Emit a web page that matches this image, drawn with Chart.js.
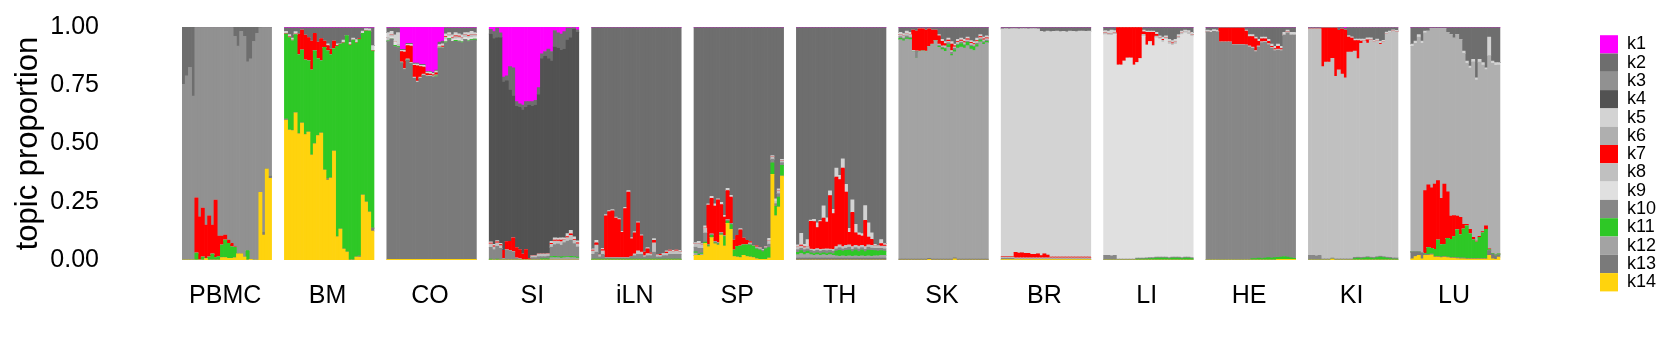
<!DOCTYPE html>
<html>
<head>
    <title>Topic proportions by tissue</title>
    <script src="https://cdnjs.cloudflare.com/ajax/libs/Chart.js/4.4.1/chart.umd.min.js"></script>
    <style>
        body { margin: 0; background: #fff; }
        #wrap { width: 1680px; height: 360px; }
    </style>
</head>
<body>
<div id="wrap"><canvas id="canvas"></canvas></div>
<script>
    // tissues (facets), 28 samples each
    var panels = ['PBMC', 'BM', 'CO', 'SI', 'iLN', 'SP', 'TH', 'SK', 'BR', 'LI', 'HE', 'KI', 'LU'];
    var topics = ['k1', 'k2', 'k3', 'k4', 'k5', 'k6', 'k7', 'k8', 'k9', 'k10', 'k11', 'k12', 'k13', 'k14'];
    var colors = ['#FF00FF', '#6E6E6E', '#919191', '#525252', '#D3D3D3', '#AFAFAF', '#FF0000',
                  '#C0C0C0', '#E0E0E0', '#878787', '#2EC826', '#A3A3A3', '#7A7A7A', '#FFD30D'];
    // topic that fills the rest of each sample (proportions add up to 1)
    var dominant = ['k3', 'k11', 'k13', 'k4', 'k2', 'k2', 'k2', 'k12', 'k5', 'k9', 'k10', 'k8', 'k6'];
    var nBars = 28, gapSlots = 4;

    var k1 = {
        BM:  [0.004,0.004,0.004,0.004,0.004,0.004,0.004,0.004,0.004,0.004,0.004,0.004,0.004,0.004,0.004,0.004,0.004,0.004,0.004,0.004,0.004,0.004,0.004,0.004,0.004,0.004,0.004,0.004],
        CO:  [0.004,0.004,0.004,0.004,0.096,0.096,0.07,0.07,0.155,0.155,0.16,0.16,0.19,0.19,0.195,0.185,0.065,0.06,0.004,0.004,0.004,0.004,0.004,0.004,0.004,0.004,0.004,0.004],
        SI:  [0.01,0.02,0.005,0.025,0.215,0.21,0.17,0.175,0.32,0.33,0.335,0.32,0.32,0.32,0.315,0.26,0.115,0.105,0.095,0.105,0.015,0.025,0.03,0.02,0.005,0.005,0.004,0.012],
        iLN: [0.003,0.003,0.003,0.003,0.003,0.003,0.003,0.003,0.003,0.003,0.003,0.003,0.003,0.003,0.003,0.003,0.003,0.003,0.003,0.003,0.003,0.003,0.003,0.003,0.003,0.003,0.003,0.003],
        SP:  [0.003,0.003,0.003,0.003,0.003,0.003,0.003,0.003,0.003,0.003,0.003,0.003,0.003,0.003,0.003,0.003,0.003,0.003,0.003,0.003,0.003,0.003,0.003,0.003,0.003,0.003,0.003,0.003],
        TH:  [0.003,0.003,0.003,0.003,0.003,0.003,0.003,0.003,0.003,0.003,0.003,0.003,0.003,0.003,0.003,0.003,0.003,0.003,0.003,0.003,0.003,0.003,0.003,0.003,0.003,0.003,0.003,0.003],
        SK:  [0.003,0.003,0.003,0.003,0.003,0.003,0.003,0.003,0.003,0.003,0.003,0.003,0.003,0.003,0.003,0.003,0.003,0.003,0.003,0.003,0.003,0.003,0.003,0.003,0.003,0.003,0.003,0.003],
        BR:  [0.003,0.003,0.003,0.003,0.003,0.003,0.003,0.003,0.003,0.003,0.003,0.003,0.003,0.003,0.003,0.003,0.003,0.003,0.003,0.003,0.003,0.003,0.003,0.003,0.003,0.003,0.003,0.003],
        LI:  [0.003,0.003,0.003,0.003,0.003,0.003,0.003,0.003,0.003,0.003,0.003,0.003,0.003,0.003,0.003,0.003,0.003,0.003,0.003,0.003,0.003,0.003,0.003,0.003,0.003,0.003,0.003,0.003],
        HE:  [0.003,0.003,0.003,0.003,0.003,0.003,0.003,0.003,0.003,0.003,0.003,0.003,0.003,0.003,0.003,0.003,0.003,0.003,0.003,0.003,0.003,0.003,0.003,0.003,0.003,0.003,0.003,0.003],
        KI:  [0.002,0.002,0.002,0.002,0.002,0.002,0.002,0.002,0.002,0.002,0.002,0.006,0.002,0.002,0.002,0.002,0.002,0.002,0.002,0.002,0.002,0.002,0.002,0.002,0.002,0.002,0.002,0.002],
        LU:  [0.003,0.003,0.003,0.003,0.003,0.003,0.003,0.003,0.003,0.003,0.003,0.003,0.003,0.003,0.003,0.003,0.003,0.003,0.003,0.003,0.003,0.003,0.003,0.003,0.003,0.003,0.003,0.003]
    };
    var k2 = {
        PBMC: [0.246,0.21,0.173,0.296,0.002,0.002,0.002,0.002,0.002,0.002,0.002,0.002,0.002,0.002,0.002,0.002,0.04,0.082,0.019,0.04,0.15,0.137,0.062,0.027,0.003,0.002,0.002,0.002],
        BM:  [0.015,0.028,0.044,0.016,0.026,0.009,0.031,0.041,0.056,0.023,0.061,0.046,0.056,0.068,0.091,0.056,0.068,0.069,0.052,0.033,0.062,0.044,0.05,0.046,0.013,0.003,0.004,0.076],
        CO:  [0.02,0.015,0.03,0.02,0.004,0.004,0.004,0.004,0.004,0.004,0.004,0.004,0.004,0.004,0.004,0.004,0.01,0.012,0.025,0.02,0.03,0.02,0.025,0.03,0.02,0.02,0.015,0.02],
        SI:  [0.02,0.03,0.04,0.02,0.02,0.02,0.1,0.12,0.02,0.015,0.02,0.025,0.015,0.02,0.02,0.03,0.02,0.02,0.04,0.04,0.07,0.065,0.07,0.075,0.05,0.04,0.005,0.01],
        SK:  [0.02,0.025,0.015,0.02,0.01,0.015,0.005,0.005,0.01,0.005,0.01,0.01,0.03,0.05,0.06,0.045,0.06,0.07,0.05,0.045,0.05,0.04,0.055,0.06,0.045,0.03,0.04,0.035],
        BR:  [0.005,0.004,0.005,0.004,0.004,0.005,0.004,0.004,0.005,0.004,0.004,0.005,0.016,0.018,0.015,0.017,0.016,0.015,0.017,0.016,0.018,0.015,0.016,0.017,0.015,0.014,0.016,0.015],
        LI:  [0.012,0.014,0.01,0.012,0,0,0,0,0,0,0,0,0.01,0.015,0.015,0.015,0.02,0.035,0.04,0.035,0.05,0.055,0.05,0.03,0.015,0.01,0.012,0.02],
        HE:  [0.01,0.012,0.008,0.01,0.002,0.002,0.002,0.002,0.002,0.002,0.002,0.002,0.01,0.03,0.03,0.04,0.05,0.04,0.04,0.05,0.07,0.08,0.07,0.08,0.02,0.01,0.02,0.02],
        KI:  [0.006,0.006,0.006,0.006,0.003,0.003,0.003,0.003,0.003,0.012,0.007,0.007,0.035,0.04,0.05,0.05,0.05,0.05,0.045,0.045,0.055,0.05,0.06,0.055,0.02,0.015,0.01,0.012],
        LU:  [0.07,0.057,0.03,0.057,0.014,0.014,0.004,0.004,0.004,0.004,0.004,0.02,0.03,0.045,0.03,0.05,0.1,0.143,0.165,0.136,0.215,0.136,0.15,0.172,0.04,0.143,0.15,0.15]
    };
    var k3 = {};
    var k4 = {};
    var k5 = {
        BM:  [0.008,0.01,0.008,0.01,0,0,0,0,0,0,0,0,0,0.008,0,0,0.008,0,0.01,0,0.01,0.008,0.012,0,0.01,0.008,0.01,0.02],
        CO:  [0.02,0.015,0.03,0.05,0.006,0.008,0.006,0.008,0.006,0.008,0.006,0.008,0.006,0.008,0.006,0.008,0.01,0.01,0.012,0.008,0.01,0.014,0.01,0.012,0.01,0.012,0.015,0.01],
        SI:  [0.005,0.006,0.005,0.006,0,0,0,0,0,0,0,0,0,0,0,0,0,0,0,0.008,0.01,0.008,0.01,0.008,0.012,0.015,0.01,0.008],
        iLN: [0.005,0.01,0,0.005,0.005,0.004,0.005,0.004,0.005,0.004,0.005,0.006,0.005,0.005,0.005,0.004,0,0.005,0,0.008,0,0,0,0.005,0,0.008,0,0.005],
        SP:  [0.005,0.01,0.005,0.01,0.005,0.008,0.01,0.005,0.01,0.008,0.01,0.008,0,0,0.006,0,0,0,0,0,0,0,0,0.01,0.005,0.01,0.008,0.006],
        TH:  [0.01,0.05,0.01,0.03,0.005,0.01,0.02,0.005,0.053,0.018,0.021,0.018,0.039,0.018,0.04,0.033,0.017,0.053,0.036,0.01,0.01,0.064,0.061,0.028,0.007,0,0.017,0.006],
        SK:  [0.01,0.01,0.012,0.01,0,0,0,0,0,0,0,0,0.005,0.008,0.008,0.008,0.01,0.008,0.008,0.008,0.01,0.008,0.008,0.008,0.01,0.008,0.008,0.008],
        LI:  [0.01,0.012,0.015,0.01,0,0,0,0,0,0,0,0,0.008,0.005,0.005,0.005,0.008,0.008,0.01,0.008,0.01,0.01,0.012,0.01,0.008,0.006,0.008,0.01],
        HE:  [0.008,0.008,0.008,0.008,0,0,0,0,0,0,0,0,0.005,0.008,0.008,0.008,0.008,0.008,0.008,0.008,0.01,0.01,0.01,0.01,0.008,0.008,0.008,0.008],
        KI:  [0,0,0,0,0,0,0,0,0,0,0,0,0.006,0.006,0.006,0.006,0.008,0.008,0.008,0.008,0.008,0.008,0.008,0.008,0.006,0.006,0.006,0.006],
        LU:  [0.01,0.01,0.01,0.01,0.008,0,0,0,0,0,0,0,0,0,0,0,0.01,0.01,0.008,0.01,0.01,0.012,0.01,0.008,0.08,0.01,0.012,0.01]
    };
    var k6 = {};
    var k7 = {
        PBMC: [0,0,0,0,0.237,0.185,0.21,0.144,0.177,0.125,0.247,0.088,0.039,0.021,0.014,0.015,0.003,0,0,0,0,0,0,0,0,0,0,0],
        BM:  [0.003,0.003,0.003,0.003,0.089,0.086,0.107,0.1,0.125,0.075,0.072,0.095,0.027,0.022,0.024,0.034,0.003,0,0.003,0,0.003,0,0.003,0.003,0,0.003,0,0.003],
        CO:  [0,0,0,0,0.043,0.07,0.057,0.07,0.05,0.065,0.045,0.03,0.008,0.005,0.005,0.008,0,0.004,0.003,0,0.003,0.003,0.003,0,0,0.003,0,0],
        SI:  [0.004,0.004,0.004,0.004,0.036,0.035,0.04,0.06,0.045,0.04,0.025,0.045,0.006,0,0,0,0,0,0,0.005,0.004,0.005,0.006,0,0.005,0.006,0.004,0.005],
        iLN: [0.004,0.01,0,0.006,0.181,0.199,0.202,0.171,0.164,0.11,0.212,0.283,0.075,0.09,0.12,0.07,0.015,0.02,0.005,0.01,0,0.004,0,0.005,0.004,0,0.004,0],
        SP:  [0,0,0,0,0.169,0.154,0.152,0.184,0.121,0.079,0.126,0.113,0.043,0.047,0.069,0.029,0.019,0.005,0,0.004,0,0,0,0,0,0,0,0],
        TH:  [0,0.004,0.004,0,0.119,0.119,0.09,0.119,0.133,0.115,0.229,0.153,0.298,0.28,0.336,0.229,0.054,0.147,0.054,0.047,0.04,0.112,0.033,0.026,0,0,0.011,0.004],
        SK:  [0,0,0,0,0.087,0.085,0.095,0.095,0.09,0.075,0.06,0.045,0.035,0.02,0.01,0.005,0.028,0.004,0.004,0.004,0.004,0.004,0.004,0.004,0.004,0.004,0.004,0.004],
        BR:  [0.003,0.003,0.003,0.003,0.024,0.021,0.022,0.02,0.02,0.015,0.015,0.018,0.01,0.017,0.012,0.004,0.004,0.004,0.004,0.004,0.003,0.003,0.003,0.003,0.003,0.003,0.003,0.003],
        LI:  [0,0,0,0,0.16,0.16,0.143,0.13,0.13,0.16,0.15,0.133,0.01,0.055,0.04,0.058,0.008,0,0.004,0,0,0.003,0,0,0,0,0,0],
        HE:  [0,0,0,0,0.06,0.06,0.06,0.06,0.071,0.071,0.071,0.071,0.06,0.04,0.045,0.05,0.02,0.012,0.01,0.01,0.004,0.004,0.012,0.004,0,0,0,0],
        KI:  [0,0,0,0,0.165,0.146,0.146,0.129,0.207,0.17,0.193,0.205,0.065,0.06,0.045,0.078,0.01,0,0.014,0,0,0,0.004,0,0,0,0,0],
        LU:  [0,0,0,0,0.27,0.27,0.26,0.28,0.255,0.2,0.26,0.2,0.1,0.09,0.06,0.075,0.02,0.006,0.02,0.01,0.004,0.005,0.005,0.015,0.003,0,0,0]
    };
    var k8 = {
        CO:  [0.015,0.008,0,0.01,0.005,0.005,0.005,0.005,0.005,0.005,0.005,0.005,0.005,0.005,0.005,0.005,0.005,0.005,0.01,0.008,0.006,0.01,0.008,0.01,0.01,0.008,0.01,0.008],
        SI:  [0.015,0.012,0.015,0.012,0,0,0,0,0,0,0,0,0,0.008,0.008,0.01,0.01,0.01,0.01,0.012,0.015,0.012,0.015,0.012,0.015,0.02,0.015,0.012],
        iLN: [0.015,0.03,0.008,0.015,0,0,0,0,0,0,0,0,0,0.008,0.015,0.01,0.005,0.009,0.007,0.04,0.008,0.006,0.01,0.01,0.015,0.01,0.015,0.012],
        SP:  [0.015,0.02,0.015,0.02,0,0,0,0,0,0,0,0,0,0,0,0,0,0.005,0,0.005,0.005,0.005,0.005,0.015,0.01,0.01,0.012,0.008],
        TH:  [0.01,0.01,0.008,0.01,0.006,0.008,0.006,0.008,0.006,0.008,0.006,0.008,0.01,0.012,0.01,0.012,0.01,0.012,0.01,0.012,0.01,0.012,0.01,0.012,0.01,0.012,0.01,0.012],
        SK:  [0.008,0.01,0.008,0.01,0.005,0,0.005,0,0.005,0,0.005,0,0.005,0.005,0.008,0.006,0.008,0.006,0.008,0.006,0.008,0.006,0.008,0.006,0.008,0.006,0.008,0.006],
        BR:  [0.004,0.004,0.004,0.004,0.004,0.004,0.004,0.004,0.004,0.004,0.004,0.004,0.004,0.004,0.004,0.004,0.004,0.004,0.004,0.004,0.004,0.004,0.004,0.004,0.004,0.004,0.004,0.004],
        LI:  [0.008,0.006,0.008,0.006,0,0,0,0,0,0,0,0,0.008,0,0,0,0.008,0.006,0.008,0.006,0.01,0.008,0.008,0.006,0.006,0.006,0.008,0.006],
        HE:  [0,0,0,0,0,0,0,0,0,0,0,0,0,0.004,0.004,0.004,0.004,0.004,0.004,0.004,0.004,0.004,0.004,0.004,0.004,0.004,0.004,0.004]
    };
    var k9 = {
        CO:  [0,0.01,0.015,0,0,0,0,0,0,0,0,0,0,0,0,0,0,0,0.01,0.01,0.008,0.006,0.01,0.008,0.01,0.012,0.01,0.01]
    };
    var k10 = {
        SI:  [0.05,0.045,0.055,0.05,0.006,0.044,0.04,0.035,0.008,0.005,0,0,0,0.01,0.01,0.015,0.01,0.01,0.012,0.04,0.05,0.055,0.05,0.06,0.065,0.07,0.055,0.045],
        iLN: [0.02,0.03,0.01,0.02,0.005,0.005,0.005,0.005,0.005,0.005,0.005,0.005,0.012,0.015,0.02,0.02,0.01,0.015,0.015,0.03,0.01,0.01,0.015,0.015,0.02,0.02,0.02,0.02],
        SP:  [0.02,0.025,0.02,0.04,0.005,0.005,0.005,0.005,0.005,0.005,0.005,0.005,0,0,0,0,0,0.005,0,0.005,0.005,0.005,0.005,0.015,0.016,0.012,0.015,0.012],
        TH:  [0.012,0.01,0.012,0.01,0.01,0.01,0.012,0.01,0.01,0.012,0.01,0.01,0.01,0.012,0.01,0.01,0.012,0.01,0.01,0.012,0.01,0.01,0.012,0.01,0.01,0.012,0.01,0.01],
        SK:  [0.008,0.006,0.008,0.006,0,0.03,0,0,0,0,0,0,0.005,0.005,0.005,0.008,0.008,0.008,0.005,0.005,0.005,0.005,0.005,0.005,0.005,0.005,0.005,0.005],
        BR:  [0.006,0.006,0.006,0.006,0.003,0.003,0.003,0.003,0.003,0.003,0.003,0.003,0.003,0.003,0.003,0.003,0.003,0.003,0.003,0.003,0.003,0.003,0.003,0.003,0.003,0.003,0.003,0.003],
        LI:  [0.02,0.02,0.018,0.02,0.004,0.004,0.004,0.004,0.004,0.004,0.004,0.004,0.004,0.004,0.004,0.004,0.004,0.004,0.004,0.004,0.004,0.004,0.004,0.004,0.004,0.004,0.004,0.004],
        KI:  [0.02,0.02,0.018,0.02,0.005,0.005,0.005,0.005,0.005,0.005,0.005,0.005,0.005,0.005,0.005,0.005,0.005,0.005,0.005,0.005,0.005,0.005,0.005,0.005,0.005,0.005,0.005,0.005]
    };
    var k11 = {
        PBMC: [0,0,0,0,0.03,0,0.013,0,0.013,0.025,0.01,0.015,0.054,0.076,0.065,0.05,0.045,0,0,0,0.04,0,0,0,0,0,0,0],
        CO:  [0.004,0,0.005,0.004,0,0,0,0,0,0,0,0,0,0,0,0.004,0,0,0.004,0.004,0,0.004,0.004,0.004,0,0.004,0.004,0.004],
        SI:  [0.004,0,0.004,0,0,0,0,0,0,0,0,0,0,0,0,0,0.005,0.005,0.005,0.005,0.006,0.004,0.006,0.005,0.004,0.006,0.005,0.004],
        iLN: [0.004,0.004,0.004,0.004,0.004,0.004,0.004,0.004,0.004,0.004,0.004,0.004,0.004,0.004,0.004,0.004,0.004,0.004,0.004,0.004,0.004,0.004,0.004,0.004,0.004,0.004,0.004,0.004],
        SP:  [0.005,0.005,0.005,0.005,0.005,0.01,0.005,0.005,0.005,0.04,0.01,0.02,0.028,0.047,0.05,0.045,0.05,0.052,0.05,0.042,0.04,0.033,0.045,0.045,0.049,0.04,0.043,0.046],
        TH:  [0.01,0.012,0.01,0.01,0.008,0.008,0.008,0.008,0.008,0.008,0.008,0.008,0.02,0.025,0.02,0.025,0.025,0.02,0.025,0.02,0.025,0.02,0.025,0.025,0.022,0.02,0.02,0.018],
        SK:  [0.005,0.005,0.006,0.005,0,0,0,0,0,0,0,0,0.004,0.006,0.01,0.012,0.006,0.008,0.012,0.015,0.01,0.014,0.012,0.015,0.01,0.008,0.006,0.006],
        LI:  [0,0,0,0,0,0,0,0,0,0,0.004,0.004,0.004,0.005,0.006,0.006,0.008,0.008,0.008,0.008,0.006,0.008,0.008,0.008,0.006,0.008,0.008,0.006],
        HE:  [0,0,0,0,0,0,0,0,0,0,0,0,0,0,0.006,0.006,0.008,0.006,0.008,0.01,0.008,0.01,0.008,0.01,0.012,0.01,0.006,0.004],
        KI:  [0,0,0,0,0,0,0,0,0,0,0,0,0,0,0.006,0.008,0.006,0.008,0.01,0.008,0.006,0.01,0.012,0.01,0.008,0.006,0.004,0.004],
        LU:  [0,0,0,0,0.005,0.03,0.025,0.03,0.07,0.052,0.05,0.08,0.078,0.09,0.12,0.1,0.125,0.14,0.105,0.08,0.07,0.09,0.11,0.125,0.005,0.004,0.004,0.004]
    };
    var k12 = {
        SI:  [0,0,0,0,0,0,0,0,0,0,0,0,0,0,0,0,0,0,0,0.01,0.01,0.01,0.008,0.01,0.012,0.01,0.01,0.008],
        SP:  [0.01,0,0.005,0,0,0,0,0,0,0,0,0,0,0,0,0,0,0,0,0,0,0,0,0,0,0,0,0],
        TH:  [0.015,0.02,0.015,0.02,0.015,0.012,0.015,0.012,0.015,0.012,0.015,0.012,0.01,0.008,0.01,0.008,0.01,0.008,0.01,0.008,0.01,0.008,0.01,0.008,0.01,0.01,0.012,0.012]
    };
    var k13 = {
        PBMC: [0,0,0,0,0,0,0,0,0,0,0,0,0,0,0,0,0,0,0,0,0,0,0,0,0,0.013,0,0.01],
        BM:  [0.005,0,0,0,0,0,0,0,0,0,0,0,0,0.005,0,0,0,0,0,0,0,0,0,0.005,0,0,0,0.013],
        TH:  [0.008,0.008,0.008,0.008,0.008,0.008,0.008,0.008,0.008,0.008,0.008,0.008,0.008,0.008,0.008,0.008,0.008,0.008,0.008,0.008,0.008,0.008,0.008,0.008,0.008,0.008,0.008,0.008],
        SK:  [0.004,0.004,0.004,0.004,0.004,0.004,0.004,0.004,0.004,0.004,0.004,0.004,0.004,0.004,0.004,0.004,0.004,0.004,0.004,0.004,0.004,0.004,0.004,0.004,0.004,0.004,0.004,0.004],
        LU:  [0.03,0.02,0.015,0.025,0.003,0.003,0.003,0.003,0.003,0.003,0.003,0.003,0.003,0.003,0.003,0.003,0.003,0.003,0.003,0.003,0.003,0.003,0.003,0.003,0.02,0.02,0.015,0.01]
    };
    var k14 = {
        PBMC: [0,0,0,0,0,0,0,0.006,0,0,0,0,0.01,0.01,0.007,0.007,0.009,0.026,0.026,0.013,0,0.003,0,0,0.29,0.107,0.39,0.35],
        BM:  [0.6,0.558,0.555,0.632,0.542,0.588,0.538,0.549,0.45,0.499,0.534,0.545,0.386,0.343,0.352,0.468,0.099,0.133,0.047,0.034,0,0,0.013,0.012,0.279,0.249,0.206,0.124],
        CO:  [0.003,0.003,0.003,0.003,0.003,0.003,0.003,0.003,0.003,0.003,0.003,0.003,0.003,0.003,0.003,0.003,0.003,0.003,0.003,0.003,0.003,0.003,0.003,0.003,0.003,0.003,0.003,0.003],
        SP:  [0.02,0.02,0.02,0.072,0.057,0.096,0.069,0.064,0.107,0.06,0.157,0.132,0.015,0.012,0.01,0.02,0.015,0.012,0.01,0.005,0.003,0.003,0.003,0.008,0.368,0.19,0.227,0.36],
        SK:  [0,0,0,0,0,0,0,0,0,0.003,0,0,0,0,0,0,0,0.005,0,0,0,0,0,0,0,0,0,0],
        BR:  [0.002,0.002,0.002,0.002,0.002,0.002,0.002,0.002,0.002,0.002,0.002,0.002,0.002,0.002,0.002,0.002,0.002,0.002,0.002,0.002,0.002,0.002,0.002,0.002,0.002,0.002,0.002,0.002],
        HE:  [0,0,0,0,0,0,0,0,0,0,0,0,0,0,0,0,0,0,0,0,0,0,0.003,0.003,0.003,0.003,0.003,0.003],
        KI:  [0,0,0,0,0,0,0,0.004,0,0,0,0,0,0,0,0,0,0,0,0,0,0,0,0,0,0,0,0],
        LU:  [0.005,0.015,0.02,0.005,0.02,0.02,0.022,0.013,0.013,0.01,0.013,0.01,0.008,0.008,0.006,0.005,0.005,0.004,0.004,0.004,0.004,0.004,0.004,0.004,0.02,0.005,0.003,0.012]
    };

    var topicData = { k1: k1, k2: k2, k3: k3, k4: k4, k5: k5, k6: k6, k7: k7,
                      k8: k8, k9: k9, k10: k10, k11: k11, k12: k12, k13: k13, k14: k14 };

    // one category slot per sample, empty slots between tissues
    var labels = [];
    var series = topics.map(function() { return []; });
    panels.forEach(function(p, pi) {
        var di = topics.indexOf(dominant[pi]);
        for (var i = 0; i < nBars; i++) {
            labels.push(i === 13 ? p : '');
            var other = 0;
            topics.forEach(function(t, ti) {
                if (ti === di) { series[ti].push(null); return; }
                var arr = topicData[t][p];
                var v = arr ? arr[i] : 0;
                series[ti].push(v);
                other += v;
            });
            series[di][series[di].length - 1] = Math.max(0, 1 - other);
        }
        if (pi < panels.length - 1) {
            for (var g = 0; g < gapSlots; g++) {
                labels.push('');
                series.forEach(function(s) { s.push(null); });
            }
        }
    });

    // k14 first so it sits at the bottom of each stack
    var datasets = [];
    for (var ti = topics.length - 1; ti >= 0; ti--) {
        datasets.push({
            label: topics[ti],
            data: series[ti],
            backgroundColor: colors[ti],
            borderWidth: 0,
            barPercentage: 1,
            categoryPercentage: 1
        });
    }

    var font = "'Liberation Sans', Arial, sans-serif";
    var context = document.getElementById("canvas").getContext("2d");
    var myBarChart = new Chart(context, {
        type: 'bar',
        data: { labels: labels, datasets: datasets },
        options: {
            responsive: true,
            maintainAspectRatio: false,
            animation: false,
            devicePixelRatio: 1,
            layout: { padding: { top: 27, right: 14, bottom: 0, left: 0 } },
            plugins: {
                tooltip: { enabled: false },
                legend: {
                    position: 'right',
                    align: 'start',
                    reverse: true,
                    title: { display: true, text: ' ', padding: { top: 7, bottom: 0 }, font: { size: 1 } },
                    labels: {
                        boxWidth: 18,
                        boxHeight: 18.3,
                        padding: 0,
                        color: '#000',
                        font: { family: font, size: 18 }
                    }
                }
            },
            scales: {
                x: {
                    stacked: true,
                    grid: { display: false, drawTicks: false },
                    border: { display: false },
                    ticks: {
                        autoSkip: false,
                        maxRotation: 0,
                        minRotation: 0,
                        padding: 21,
                        color: '#000',
                        font: { family: font, size: 25 }
                    },
                    afterFit: function(s) { s.height = 100; s.paddingLeft = 0; s.paddingRight = 0; }
                },
                y: {
                    stacked: true,
                    min: 0,
                    max: 1,
                    grid: { display: false, drawTicks: false },
                    border: { display: false },
                    ticks: {
                        stepSize: 0.25,
                        padding: 83,
                        color: '#000',
                        font: { family: font, size: 25 },
                        callback: function(v) { return v.toFixed(2); }
                    },
                    title: {
                        display: true,
                        text: 'topic proportion',
                        color: '#000',
                        padding: { top: 10, bottom: 0 },
                        font: { family: font, size: 31 }
                    },
                    afterFit: function(s) { s.width = 182; s.paddingTop = 0; s.paddingBottom = 0; }
                },
                yr: {
                    position: 'right',
                    display: true,
                    grid: { display: false, drawTicks: false },
                    border: { display: false },
                    ticks: { display: false },
                    afterFit: function(s) { s.width = 99.6; s.paddingTop = 0; s.paddingBottom = 0; }
                }
            }
        }
    });
</script>
</body>
</html>
